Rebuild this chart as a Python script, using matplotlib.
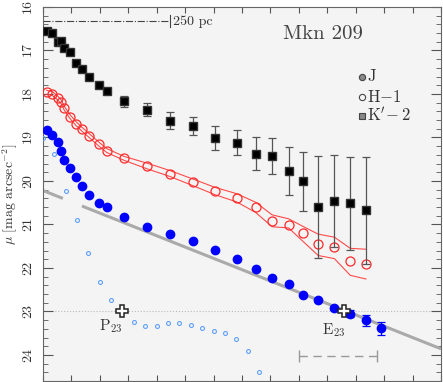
import matplotlib
matplotlib.use('Agg')
import numpy as np
import matplotlib.pyplot as plt

plt.rcParams['font.family'] = 'serif'
plt.rcParams['font.serif'] = ['cmr10', 'DejaVu Serif']
plt.rcParams['mathtext.fontset'] = 'cm'
plt.rcParams['axes.unicode_minus'] = False
plt.rcParams['axes.formatter.use_mathtext'] = True

# radius (arcsec) shared by the J, H and K' profiles
r = [0.13, 0.33, 0.53, 0.64, 0.75, 0.96, 1.16, 1.37, 1.63, 1.96, 2.24, 2.85, 3.67,
     4.47, 5.28, 6.04, 6.81, 7.48, 8.06, 8.64, 9.13, 9.68, 10.25, 10.81, 11.36]

# K'-2 profile
mu_k = [16.55, 16.60, 16.80, 16.79, 16.94, 17.04, 17.28, 17.42, 17.62, 17.80, 17.94, 18.17, 18.36,
        18.61, 18.74, 19.01, 19.12, 19.37, 19.43, 19.78, 20.01, 20.60, 20.46, 20.51, 20.67]
err_k = [0.02, 0.02, 0.02, 0.02, 0.02, 0.02, 0.02, 0.03, 0.03, 0.04, 0.06, 0.13, 0.15,
         0.19, 0.21, 0.27, 0.29, 0.38, 0.41, 0.55, 0.68, 1.18, 1.05, 1.07, 1.23]

# H-1 profile and its uncertainty band
mu_h = [17.96, 17.99, 18.10, 18.18, 18.33, 18.53, 18.68, 18.81, 18.96, 19.15, 19.30, 19.48, 19.65,
        19.83, 20.03, 20.23, 20.39, 20.61, 20.91, 21.01, 21.20, 21.45, 21.52, 21.85, 21.90]
band_lo = [0.045, 0.045, 0.045, 0.045, 0.045, 0.045, 0.045, 0.045, 0.045, 0.045, 0.045, 0.045, 0.057,
           0.068, 0.073, 0.084, 0.098, 0.12, 0.13, 0.14, 0.16, 0.227, 0.227, 0.30, 0.33]
band_hi = [0.045, 0.045, 0.045, 0.045, 0.045, 0.045, 0.045, 0.045, 0.045, 0.045, 0.045, 0.045, 0.073,
           0.068, 0.080, 0.084, 0.091, 0.114, 0.143, 0.07, 0.18, 0.264, 0.266, 0.32, 0.355]

# J profile (one extra outer point)
r_j = r + [11.89]
mu_j = [18.83, 18.95, 19.11, 19.30, 19.52, 19.70, 19.92, 20.12, 20.32, 20.50, 20.61, 20.82, 21.05,
        21.22, 21.39, 21.58, 21.79, 22.02, 22.23, 22.38, 22.62, 22.74, 22.92, 23.05, 23.20, 23.39]
err_j = [0, 0, 0, 0, 0, 0, 0, 0, 0, 0, 0, 0, 0,
         0, 0, 0, 0, 0, 0, 0, 0, 0.02, 0.04, 0.08, 0.125, 0.15]

# residual (host-subtracted) J profile
r_d = [0.0, 0.4, 0.8, 1.2, 1.6, 2.0, 2.4, 2.8, 3.2, 3.6, 4.0, 4.4, 4.8, 5.2, 5.6, 6.0, 6.4, 6.8, 7.2, 7.6]
mu_d = [19.02, 19.38, 20.24, 20.90, 21.65, 22.33, 22.74, 23.0, 23.25, 23.34, 23.33, 23.27, 23.27,
        23.32, 23.38, 23.44, 23.49, 23.63, 23.91, 24.40]

# exponential fit to the host
mu0, slope = 20.22, 0.26
p23 = (2.77, 23.0)
e23 = (10.6, 23.0)
scale_len = 4.47   # 250 pc
fwhm = (9.01, 11.75)

fig = plt.figure(figsize=(4.43, 3.82), dpi=100)
ax = fig.add_axes([43/443, 1/382, 398/443, 374/382])
ax.set_facecolor('#f4f4f4')

ax.axhline(23, color='#bbbbbb', ls=':', lw=0.8, zorder=1)

for xs in ([0, 0.7], [1.37, 14]):
    xs = np.array(xs)
    ax.plot(xs, mu0 + slope * xs, color='#aaaaaa', lw=2.2, zorder=2, solid_capstyle='butt')

ax.plot(r_d, mu_d, 'o', ms=2.8, mfc='none', mec='#5f9fff', mew=0.8, zorder=3)

r_arr = np.array(r)
mu_h_arr = np.array(mu_h)
ax.plot(r_arr, mu_h_arr - np.array(band_lo), color='#ff4a4a', lw=0.8, zorder=3)
ax.plot(r_arr, mu_h_arr + np.array(band_hi), color='#ff4a4a', lw=0.8, zorder=3)
ax.plot(r, mu_h, 'o', ms=6.5, mfc='none', mec='#ff2a2a', mew=0.9, zorder=4)

ax.errorbar(r, mu_k, yerr=err_k, fmt='s', ms=6, color='black', mec='#333333',
            ecolor='#555555', elinewidth=0.9, capsize=3, capthick=0.9, zorder=5)

ax.errorbar(r_j, mu_j, yerr=err_j, fmt='o', ms=6, color='#0000ff', mec='#0000ff',
            ecolor='#0000ff', elinewidth=0.9, capsize=3, capthick=0.9, zorder=5)

for pt in (p23, e23):
    ax.plot(pt[0], pt[1], 'P', ms=8.5, mfc='white', mec='#222222', mew=1.1, zorder=6)
ax.text(2.39, 23.34, r'P$_{23}$', fontsize=11, color='#333333', ha='center', va='center')
ax.text(10.21, 23.43, r'E$_{23}$', fontsize=11, color='#333333', ha='center', va='center')

# 250 pc scale bar
ax.plot([0, scale_len], [16.33, 16.33], color='#444444', lw=0.8, ls='-.')
ax.plot([scale_len, scale_len], [16.18, 16.47], color='#444444', lw=0.8)
ax.text(scale_len + 0.12, 16.33, '250 pc', fontsize=10, color='#333333', va='center', ha='left')

# seeing bar
ax.errorbar([np.mean(fwhm)], [24.02], xerr=[(fwhm[1] - fwhm[0]) / 2], fmt='none',
            ecolor='#999999', elinewidth=0, capsize=4, capthick=1.0)
ax.plot(fwhm, [24.02, 24.02], color='#999999', lw=1.0, ls=(0, (6, 4)))

ax.text(9.86, 16.62, 'Mkn 209', fontsize=15, color='#444444', ha='center', va='center')

# legend
leg_y = [17.60, 18.06, 18.50]
leg_lab = ['J', r'H$-$1', r"K$'\!-$2"]
ax.plot(11.22, leg_y[0], 'o', ms=4.5, mfc='#888888', mec='#444444', mew=0.8)
ax.plot(11.22, leg_y[1], 'o', ms=4.5, mfc='none', mec='#444444', mew=0.8)
ax.plot(11.22, leg_y[2], 's', ms=4.5, mfc='#888888', mec='#444444', mew=0.8)
for yy, lab in zip(leg_y, leg_lab):
    ax.text(11.41, yy, lab, fontsize=12, color='#333333', ha='left', va='center')

ax.set_xlim(0, 14)
ax.set_ylim(24.5, 16)
ax.set_xticks(np.arange(0, 15, 1))
ax.set_yticks(np.arange(16, 25, 1))
ax.set_yticks(np.arange(16, 24.6, 0.2), minor=True)
ax.tick_params(axis='x', which='both', direction='in', top=True, bottom=True,
               labelbottom=False, length=4, color='#555555')
ax.tick_params(axis='y', which='major', direction='in', left=True, right=True,
               length=7, color='#555555', labelsize=10, labelcolor='#333333', pad=6)
ax.tick_params(axis='y', which='minor', direction='in', left=True, right=True,
               length=3.5, color='#555555')
for lab in ax.get_yticklabels():
    lab.set_rotation(90)
    lab.set_va('center')
for sp in ax.spines.values():
    sp.set_color('#666666')
    sp.set_linewidth(0.8)

ax.set_ylabel(r'$\mu$ [mag arcsec$^{-2}$]', fontsize=10, color='#333333', labelpad=1)

fig.savefig('out.png', dpi=100)
